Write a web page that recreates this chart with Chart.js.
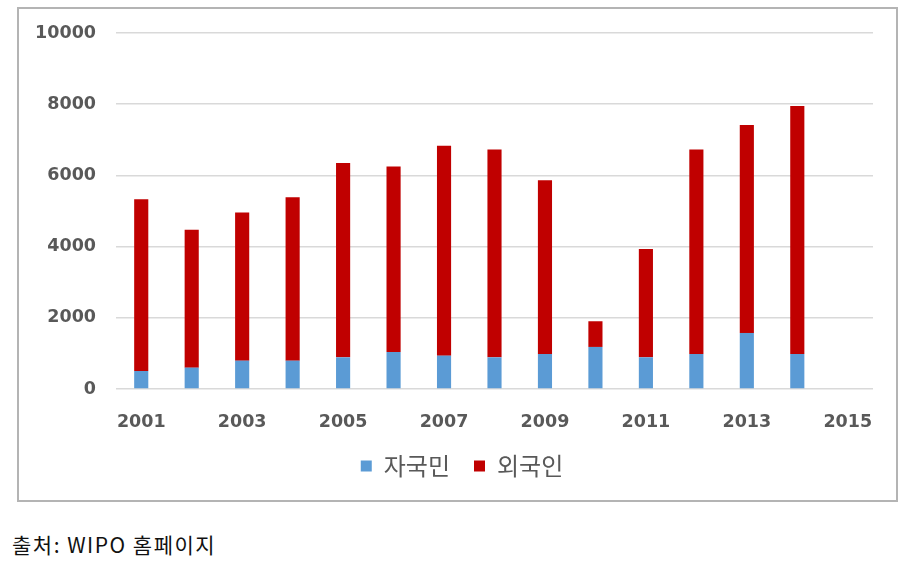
<!DOCTYPE html>
<html>
<head>
<meta charset="utf-8">
<script src="https://cdn.jsdelivr.net/npm/chart.js@4"></script>
<style>
  html, body { margin: 0; padding: 0; background: #ffffff; }
  body { width: 907px; height: 563px; position: relative; overflow: hidden; }
  #box {
    position: absolute; left: 17px; top: 7px;
    width: 877px; height: 491px;
    border: 2px solid #b4b4b4;
  }
  #source {
    position: absolute; left: 12px; top: 529px;
    font-family: 'Noto Sans CJK KR', sans-serif;
    font-size: 21px; color: #111111;
    letter-spacing: 1.5px;
    white-space: nowrap;
  }
</style>
</head>
<body>
<div id="box"><canvas id="patentChart" width="877" height="491"></canvas></div>
<div id="source">출처: WIPO 홈페이지</div>
<script>
const years = ['2001', '2002', '2003', '2004', '2005', '2006', '2007', '2008',
  '2009', '2010', '2011', '2012', '2013', '2014', '2015'];
const domestic = [506, 600, 796, 796, 890, 1040, 937, 890, 984, 1181, 890, 984, 1574, 984, null];
const foreign = [4827, 3870, 4161, 4593, 5455, 5210, 5895, 5838, 4883, 722, 3046, 5744, 5839, 6963, null];
const yTicks = [0, 2000, 4000, 6000, 8000, 10000];

const tickFont = { family: "'DejaVu Sans', sans-serif", size: 17.5, weight: 'bold' };

// legend sits a bit right of the canvas centre in the original
const legendShift = {
  id: 'legendShift',
  afterLayout(chart) {
    chart.legend.left += 16;
    chart.legend.right += 16;
  }
};

const ctx = document.getElementById('patentChart').getContext('2d');
new Chart(ctx, {
  type: 'bar',
  data: {
    labels: years,
    datasets: [
      {
        label: '자국민',
        data: domestic,
        backgroundColor: '#5b9bd5',
        barPercentage: 0.28,
        categoryPercentage: 1,
      },
      {
        label: '외국인',
        data: foreign,
        backgroundColor: '#c00000',
        barPercentage: 0.28,
        categoryPercentage: 1,
      },
    ]
  },
  plugins: [legendShift],
  options: {
    responsive: false,
    animation: false,
    layout: { padding: { left: 0, right: 23, top: 24, bottom: 12 } },
    plugins: {
      tooltip: { enabled: false },
      legend: {
        position: 'bottom',
        labels: {
          boxWidth: 11,
          boxHeight: 11,
          padding: 24,
          color: '#595959',
          font: { family: "'Noto Sans CJK KR', sans-serif", size: 24 },
        }
      }
    },
    scales: {
      x: {
        stacked: true,
        afterFit: function (axis) {
          axis.height = 41;
        },
        grid: { display: false, drawTicks: false },
        border: { display: false },
        ticks: {
          autoSkip: false,
          maxRotation: 0,
          padding: 23,
          color: '#595959',
          font: tickFont,
          callback: function (value, index) {
            return index % 2 === 0 ? years[index] : '';
          },
        }
      },
      y: {
        stacked: true,
        min: 0,
        max: 10000,
        afterBuildTicks: function (axis) {
          axis.ticks = yTicks.map(v => ({ value: v }));
        },
        afterFit: function (axis) {
          axis.width = 97;
          axis.paddingTop = 0;
          axis.paddingBottom = 0;
        },
        grid: { color: '#d9d9d9', lineWidth: 1.5, drawTicks: false },
        border: { display: false },
        ticks: {
          padding: 20,
          color: '#595959',
          font: tickFont,
          callback: function (value) {
            return String(value);
          },
        }
      }
    }
  }
});
</script>
</body>
</html>
